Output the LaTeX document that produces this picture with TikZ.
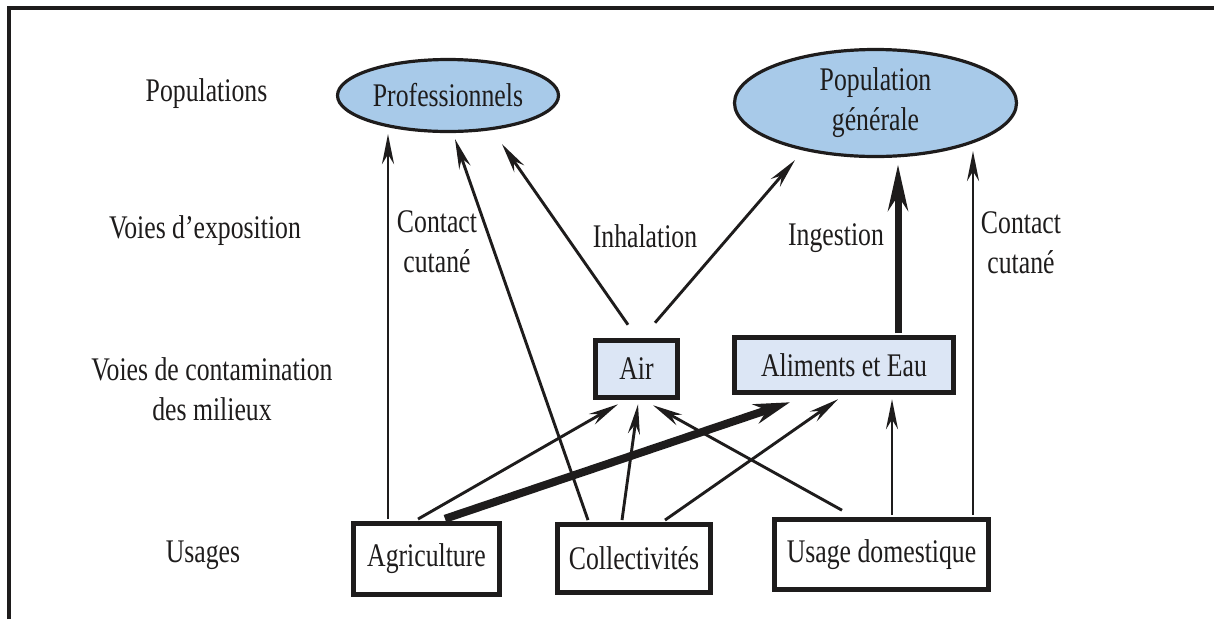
\documentclass[tikz,border=0pt]{standalone}
\usepackage{fontspec}
\setmainfont{Liberation Serif}[FakeStretch=0.78]
\usetikzlibrary{arrows.meta,shapes.geometric,calc}
\definecolor{ellfill}{RGB}{168,202,233}
\definecolor{boxfill}{RGB}{220,230,245}
\definecolor{ink}{RGB}{30,28,28}
\begin{document}
\begin{tikzpicture}[x=1pt,y=-1pt,
  every node/.style={font=\fontsize{33}{40}\selectfont, text=ink, inner sep=0pt},
  pop/.style={ellipse, draw=ink, line width=3.2pt, fill=ellfill, align=center},
  milieu/.style={rectangle, draw=ink, line width=4.5pt, fill=boxfill},
  usage/.style={rectangle, draw=ink, line width=4.5pt, fill=white},
  lab/.style={align=center},
  arr/.style={draw=ink, line width=2.9pt, -{Stealth[length=30pt,width=12pt]}},
  big/.style={draw=ink, line width=7pt, -{Stealth[length=46pt,width=20pt]}},
  bigb/.style={draw=ink, line width=8pt, -{Stealth[length=36pt,width=20pt]}},
]
\useasboundingbox (0,0) rectangle (1214,619);
\draw[line width=4pt, ink] (9,619) -- (9,8) -- (1214,8);

% left labels
\node[anchor=base] (lpop) at (206.5,101) {Populations};
\node[anchor=base] (lexp) at (205,238) {Voies d’exposition};
\node[lab, anchor=base] (lcont) at (212,420) {Voies de contamination\\des milieux};
\node[anchor=base] (luse) at (203,562) {Usages};

% nodes
\node[pop, minimum width=221pt, minimum height=72pt] (prof) at (448,95.5) {Professionnels};
\node[pop, minimum width=282pt, minimum height=107pt] (gen) at (875.5,103) {Population\\générale};
\node[milieu, minimum width=82pt, minimum height=57pt] (air) at (636.5,369) {Air};
\node[milieu, minimum width=219pt, minimum height=55pt] (ali) at (844,365) {Aliments et Eau};
\node[usage, minimum width=146pt, minimum height=71pt] (agri) at (426.5,559) {Agriculture};
\node[usage, minimum width=153pt, minimum height=68pt] (coll) at (634,558.5) {Collectivités};
\node[usage, minimum width=214pt, minimum height=70pt] (dom) at (881.5,554.5) {Usage domestique};

% edge labels
\node[lab, anchor=base] (cc1) at (437,272) {Contact\\cutané};
\node[anchor=base] (inh) at (645,247) {Inhalation};
\node[anchor=base] (ing) at (836,245) {Ingestion};
\node[lab, anchor=base] (cc2) at (1021,273) {Contact\\cutané};

% arrows to populations
\draw[arr] ($(agri.north)+(-38.5,-2.2)$) -- ($(agri.north |- prof.south)+(-38.5,1)$);
\draw[arr] ($(coll.north)+(-46,-2.2)$) -- ($(prof.south)+(7,6)$);
\draw[arr] ($(air.north)+(-8.5,-13.5)$) -- ($(prof.south)+(54,11)$);
\draw[arr] ($(air.north)+(18.5,-15.5)$) -- ($(gen.south)+(-80.5,2)$);
\draw[big] ($(ali.north)+(54,-2.2)$) -- ($(gen.south)+(22.5,6.5)$);
\draw[arr] ($(dom.north)+(91.5,-2.2)$) -- ($(gen.south)+(97.5,-7)$);

% arrows to milieux
\draw[arr] ($(agri.north)+(-8.5,-2.2)$) -- ($(air.south)+(-18.5,4.5)$);
\draw[bigb] ($(agri.north)+(18.5,-2.5)$) -- ($(ali.south)+(-54,7.5)$);
\draw[arr] ($(coll.north)+(-12,-2.2)$) -- ($(air.south)+(1.5,4.5)$);
\draw[arr] ($(coll.north)+(31,-2.2)$) -- ($(ali.south)+(-6,4.5)$);
\draw[arr] ($(dom.north)+(-39.5,-7)$) -- ($(air.south)+(16.5,5.5)$);
\draw[arr] ($(dom.north)+(10.5,-2.2)$) -- ($(ali.south)+(48,4.5)$);
\end{tikzpicture}
\end{document}
